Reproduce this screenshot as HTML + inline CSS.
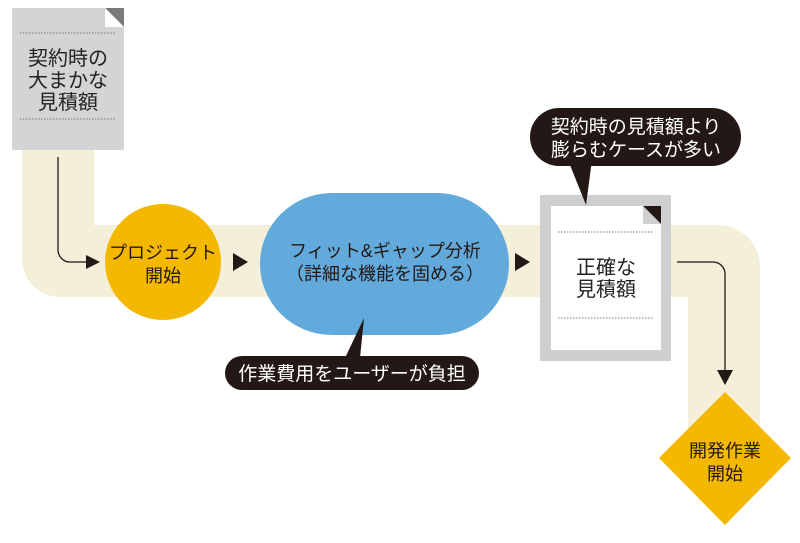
<!DOCTYPE html>
<html><head><meta charset="utf-8"><style>
body{margin:0;background:#fff;}
text{font-family:"Liberation Sans","Noto Sans CJK JP",sans-serif;}
</style></head><body>
<svg width="800" height="538" viewBox="0 0 800 538" xmlns="http://www.w3.org/2000/svg">
<path d="M22 150 H94 V225 H718 A42 42 0 0 1 760 267 V430 H688 V297 H60 A38 38 0 0 1 22 259 Z" fill="#f3efd9"/>
<rect x="12" y="8" width="112" height="142" fill="#d4d4d6"/>
<path d="M105 8 L124 8 L124 27 Z" fill="#7a7a7c"/>
<path d="M105 8 L124 27 L105 27 Z" fill="#fff"/>
<line x1="20" y1="33" x2="116" y2="33" stroke="#777" stroke-width="1" stroke-dasharray="1.5 1.5"/>
<line x1="20" y1="119" x2="116" y2="119" stroke="#777" stroke-width="1" stroke-dasharray="1.5 1.5"/>
<g font-size="20" fill="#222" text-anchor="middle">
<text x="68" y="65">契約時の</text><text x="68" y="87">大まかな</text><text x="68" y="109">見積額</text></g>
<path d="M58 157 V250 A12 12 0 0 0 70 262 H88" fill="none" stroke="#231815" stroke-width="1.3"/>
<path d="M86 255 L100 262 L86 269 Z" fill="#231815"/>
<circle cx="163" cy="262" r="58" fill="#f5b800"/>
<g font-size="18" fill="#231815" text-anchor="middle"><text x="163" y="259">プロジェクト</text><text x="163" y="282">開始</text></g>
<path d="M233 253 L248 262 L233 271 Z" fill="#231815"/>
<rect x="260" y="193" width="249" height="142" rx="72" ry="71" fill="#62a9dc"/>
<g font-size="18" fill="#231815" text-anchor="middle"><text x="385" y="257">フィット&amp;ギャップ分析</text><text x="385" y="280">（詳細な機能を固める）</text></g>
<path d="M515 253 L530 262 L515 271 Z" fill="#231815"/>
<path d="M364 318 L345 358 L360 358 Z" fill="#231815"/>
<rect x="225" y="356" width="254" height="34" rx="17" fill="#231815"/>
<text x="352" y="380" font-size="19" fill="#fff" text-anchor="middle">作業費用をユーザーが負担</text>
<rect x="540" y="195" width="131" height="166" fill="#cfcfd1"/>
<rect x="551" y="206" width="110" height="144" fill="#fff"/>
<path d="M643 206 L661 206 L661 224 Z" fill="#231815"/>
<path d="M643 206 L661 224 L643 224 Z" fill="#cfcfd1"/>
<line x1="558" y1="232" x2="654" y2="232" stroke="#777" stroke-width="1" stroke-dasharray="1.5 1.5"/>
<line x1="558" y1="318" x2="654" y2="318" stroke="#777" stroke-width="1" stroke-dasharray="1.5 1.5"/>
<g font-size="20" fill="#222" text-anchor="middle"><text x="606" y="274">正確な</text><text x="606" y="296">見積額</text></g>
<path d="M568 160 L586 205 L592 160 Z" fill="#231815"/>
<rect x="530" y="108" width="211" height="58" rx="29" fill="#231815"/>
<g font-size="19" fill="#fff" text-anchor="middle"><text x="636" y="133">契約時の見積額より</text><text x="636" y="156">膨らむケースが多い</text></g>
<path d="M677 262 H713 A12 12 0 0 1 725 274 V372" fill="none" stroke="#231815" stroke-width="1.3"/>
<path d="M717 370 L725 385 L733 370 Z" fill="#231815"/>
<path d="M725 392 L791 458 L725 525 L659 458 Z" fill="#f5b800"/>
<g font-size="18" fill="#231815" text-anchor="middle"><text x="725" y="457">開発作業</text><text x="725" y="480">開始</text></g>
</svg>
</body></html>
